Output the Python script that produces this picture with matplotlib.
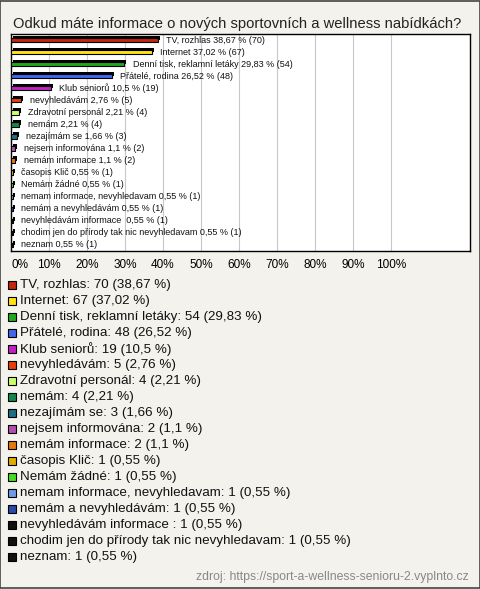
import matplotlib.pyplot as plt
import matplotlib.patheffects as pe
from matplotlib.patches import Rectangle

labels = [
    "TV, rozhlas", "Internet", "Denní tisk, reklamní letáky", "Přátelé, rodina",
    "Klub seniorů", "nevyhledávám", "Zdravotní personál", "nemám",
    "nezajímám se", "nejsem informována", "nemám informace", "časopis Klič",
    "Nemám žádné", "nemam informace, nevyhledavam", "nemám a nevyhledávám",
    "nevyhledávám informace ", "chodim jen do přírody tak nic nevyhledavam", "neznam",
]
counts = [70, 67, 54, 48, 19, 5, 4, 4, 3, 2, 2, 1, 1, 1, 1, 1, 1, 1]
percents = ["38,67", "37,02", "29,83", "26,52", "10,5", "2,76", "2,21", "2,21",
            "1,66", "1,1", "1,1", "0,55", "0,55", "0,55", "0,55", "0,55", "0,55", "0,55"]
colors = ["#c4260e", "#ffe312", "#1fa81f", "#4466ee", "#c41ec4", "#e8400c",
          "#ccff66", "#13874d", "#1f6f86", "#b050b0", "#e8780e", "#e0ac00",
          "#44dd22", "#6e9be8", "#2a4aa8", "#111111", "#111111", "#111111"]
total = 181

bg = "#f3f2ec"
plt.rcParams['font.family'] = ['Liberation Sans', 'DejaVu Sans']

fig = plt.figure(figsize=(4.8, 5.89), dpi=100, facecolor=bg)
fig.patches.append(Rectangle((0.001, 0.001), 0.998, 0.998, transform=fig.transFigure,
                             fill=False, edgecolor="#444444", linewidth=1.2))

fig.text(13 / 480, 1 - 24 / 589, "Odkud máte informace o nových sportovních a wellness nabídkách?",
         fontsize=10.6, color="#222222", va="center", ha="left")

ax = fig.add_axes([11 / 480, 1 - 251 / 589, 459 / 480, 217 / 589])
ax.set_facecolor("white")
pcts = [c / total * 100 for c in counts]
y = list(range(len(labels)))
bars = ax.barh(y, pcts, height=0.36, color=colors, edgecolor="black", linewidth=0.8, zorder=3)
for b in bars:
    b.set_path_effects([pe.SimplePatchShadow(offset=(1.4, 1.4), shadow_rgbFace="black", alpha=1),
                        pe.Normal()])
for yi, v, lab, p, c in zip(y, pcts, labels, percents, counts):
    ax.annotate(f"{lab} {p} % ({c})", (v, yi), xytext=(6, 0), textcoords="offset points",
                fontsize=6.5, va="center", ha="left", color="#111111", zorder=4)

ax.set_xlim(0, 120.8)
ax.set_ylim(len(labels) - 0.5, -0.5)
ax.set_yticks([])
ticks = list(range(0, 101, 10))
ax.set_xticks(ticks)
ax.set_xticklabels([f"{t}%" for t in ticks], fontsize=8.5)
ax.get_xticklabels()[0].set_horizontalalignment("left")
ax.tick_params(axis="x", length=0, pad=6)
ax.xaxis.grid(True, color="#c8c8c8", linewidth=0.8, zorder=0)
ax.set_axisbelow(True)
for s in ax.spines.values():
    s.set_color("black")
    s.set_linewidth(1)

for i, (lab, c, p, col) in enumerate(zip(labels, counts, percents, colors)):
    ypx = 285 + 16 * i
    fig.patches.append(Rectangle((8 / 480, 1 - (ypx + 4) / 589), 8 / 480, 8 / 589,
                                 transform=fig.transFigure, facecolor=col,
                                 edgecolor="black", linewidth=0.8))
    fig.text(20 / 480, 1 - ypx / 589, f"{lab}: {c} ({p} %)",
             fontsize=9.6, va="center", ha="left", color="#111111")

fig.text(469 / 480, 1 - 577 / 589, "zdroj: https://sport-a-wellness-senioru-2.vyplnto.cz",
         fontsize=8.8, color="#888888", va="center", ha="right")

fig.savefig("out.png", dpi=100, facecolor=bg)
